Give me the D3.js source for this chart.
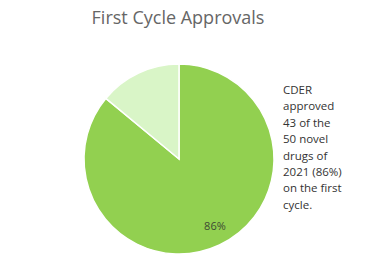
<!DOCTYPE html>
<html><head><meta charset="utf-8">
<script src="https://cdn.jsdelivr.net/npm/d3@7"></script>
<style>body{margin:0;background:#fff;}svg{display:block;}</style>
</head><body>
<svg id="c" width="384" height="263"></svg>
<script>
const categories = ["First cycle approval", "Not first cycle"];
const values = [43, 7];
const labels = ["86%", ""];
const noteLines = ["CDER", "approved", "43 of the", "50 novel", "drugs of", "2021 (86%)", "on the first", "cycle."];
const colors = ["#92D050", "#D9F5C7"];

const svg = d3.select("#c");
svg.append("text").attr("x", 178).attr("y", 24).attr("text-anchor", "middle")
  .attr("font-family", "Open Sans, sans-serif").attr("font-size", 18).attr("fill", "#666")
  .text("First Cycle Approvals");

const cx = 179, cy = 159, r = 95;
const pie = d3.pie().sort(null).value(d => d)(values);
const arc = d3.arc().innerRadius(0).outerRadius(r);
const g = svg.append("g").attr("transform", `translate(${cx},${cy})`);
g.selectAll("path").data(pie).join("path")
  .attr("d", arc).attr("fill", (d,i) => colors[i])
  .attr("stroke", "#fff").attr("stroke-width", 1.5);
const lblArc = d3.arc().innerRadius(r*0.79).outerRadius(r*0.79);
g.selectAll("text.l").data(pie).join("text")
  .attr("transform", d => { const c = lblArc.centroid(d); return `translate(${c[0]+4},${c[1]-1})`; })
  .attr("text-anchor", "middle").attr("dy", "0.35em")
  .attr("font-family", "Open Sans, sans-serif").attr("font-size", 11).attr("fill", "#3d4a33")
  .text((d,i) => labels[i]);

svg.append("g").selectAll("text").data(noteLines).join("text")
  .attr("x", 283).attr("y", (d,i) => 94 + i*16.4)
  .attr("font-family", "Open Sans, sans-serif").attr("font-size", 11.5).attr("fill", "#333")
  .text(d => d);
</script>
</body></html>
